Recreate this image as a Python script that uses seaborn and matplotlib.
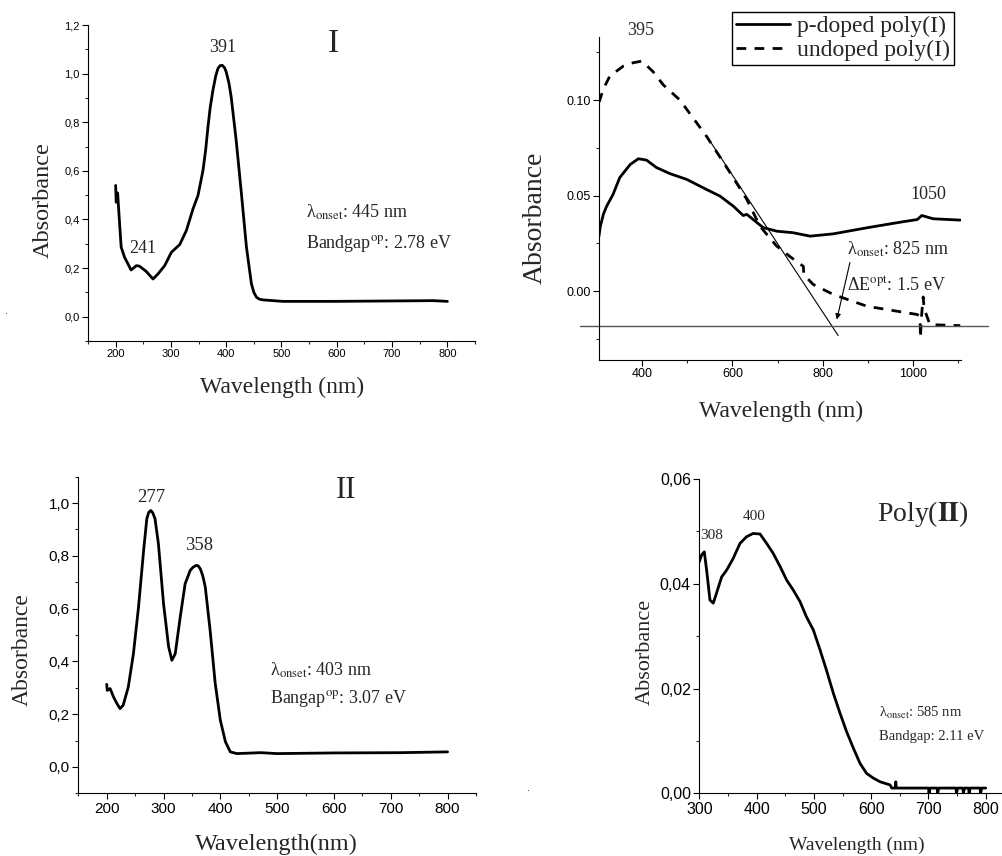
import matplotlib
matplotlib.use("Agg")
import matplotlib.pyplot as plt
import seaborn as sns
from matplotlib.ticker import MultipleLocator, FuncFormatter
from matplotlib.lines import Line2D

# ---------------- data ----------------
# Panel I (monomer I)
i_wl = [200, 201, 203.6, 206, 210, 216, 228, 237.4, 243, 255, 267.6, 276.6, 288.7, 300.8,
        316, 328, 340, 349, 358, 363, 367, 371, 376, 381, 385, 389, 393, 397, 400, 405, 409,
        418, 427.5, 436.6, 445.6, 450, 454.7, 460, 466.8, 503, 593, 774.5, 800]
i_abs = [0.540, 0.471, 0.509, 0.423, 0.286, 0.245, 0.192, 0.210, 0.208, 0.187, 0.155, 0.176,
         0.210, 0.265, 0.297, 0.355, 0.444, 0.499, 0.602, 0.690, 0.781, 0.860, 0.932, 0.990,
         1.021, 1.033, 1.034, 1.024, 1.007, 0.960, 0.904, 0.726, 0.506, 0.286, 0.135, 0.100,
         0.080, 0.072, 0.069, 0.063, 0.063, 0.066, 0.063]

# Panel poly(I)
pdop_wl = [305, 308, 315, 322, 336, 351, 374, 392, 410, 432, 462, 499, 543, 573, 602, 624, 632,
           646, 668, 698, 734, 772, 823, 898, 971, 1009, 1019, 1044, 1104]
pdop_abs = [0.0288, 0.0340, 0.0405, 0.0445, 0.0506, 0.0595, 0.0663, 0.0693, 0.0686, 0.0647,
            0.0615, 0.0585, 0.0532, 0.0497, 0.0445, 0.0396, 0.0402, 0.0375, 0.0333, 0.0314,
            0.0306, 0.0288, 0.0300, 0.0332, 0.0361, 0.0375, 0.0396, 0.0379, 0.0372]
undop_wl = [305, 315, 329, 359, 380, 400, 424, 447, 484, 543, 595, 632, 661, 698, 728, 757, 758,
            779, 823, 898, 1009, 1015, 1016, 1018, 1022, 1024, 1037, 1104]
undop_abs = [0.0988, 0.106, 0.1126, 0.1178, 0.1195, 0.1204, 0.115, 0.108, 0.100, 0.081, 0.062,
             0.048, 0.034, 0.0236, 0.018, 0.013, 0.0086, 0.0035, -0.0017, -0.0079, -0.0122,
             -0.0135, -0.0245, -0.014, -0.003, -0.009, -0.0175, -0.018]
tangent_wl = [543, 834]
tangent_abs = [0.0812, -0.0232]
baseline_wl = [263, 1165]
baseline_abs = [-0.0183, -0.0183]

# Panel II (monomer II)
ii_wl = [200, 201, 206, 212, 218, 223.5, 229, 238, 247, 256, 265, 270.6, 274, 277.6, 281, 285,
         291, 300, 309, 314.7, 320.6, 329.4, 338, 347, 352, 357.6, 361, 364.7, 369, 373.5, 382,
         391, 400, 409, 417.6, 429, 470.6, 500, 600, 717.6, 800]
ii_abs = [0.313, 0.290, 0.297, 0.265, 0.240, 0.221, 0.234, 0.303, 0.429, 0.606, 0.821, 0.941,
          0.965, 0.972, 0.963, 0.941, 0.846, 0.619, 0.455, 0.404, 0.429, 0.568, 0.694, 0.745,
          0.757, 0.764, 0.762, 0.751, 0.725, 0.682, 0.518, 0.316, 0.177, 0.095, 0.057, 0.0505,
          0.054, 0.0505, 0.053, 0.054, 0.057]

# Panel poly(II)
pii_wl = [300, 304, 308.7, 312.8, 318.6, 324.4, 330, 339, 347.7, 359, 371, 382.7, 394, 406,
          417.6, 429, 441, 452.5, 464, 475.8, 487, 499, 510.7, 522, 534, 545.6, 557, 569,
          580.6, 592, 603.8, 615.5, 633, 636, 642, 643, 644, 650, 700, 701, 703, 715, 716,
          718, 748, 749, 751, 760, 761, 763, 770, 771, 773, 790, 791, 793, 800]
pii_abs = [0.0442, 0.0455, 0.0461, 0.0426, 0.0369, 0.0363, 0.0382, 0.0413, 0.0426, 0.0448,
           0.0477, 0.0490, 0.0496, 0.0495, 0.0477, 0.0458, 0.0433, 0.0407, 0.0388, 0.0366,
           0.0337, 0.0312, 0.0274, 0.0235, 0.0191, 0.0153, 0.0118, 0.0086, 0.0057, 0.0038,
           0.0029, 0.0022, 0.0016, 0.0010, 0.0010, 0.0022, 0.0010, 0.0010, 0.0010, 0.0000,
           0.0010, 0.0010, 0.0000, 0.0010, 0.0010, 0.0000, 0.0010, 0.0010, 0.0000, 0.0010,
           0.0010, 0.0000, 0.0010, 0.0010, 0.0000, 0.0010, 0.0010]

# ---------------- style ----------------
sns.set_theme(style="ticks")
plt.rcParams["font.family"] = ["Liberation Sans", "DejaVu Sans"]
plt.rcParams["mathtext.fontset"] = "stix"
plt.rcParams["axes.linewidth"] = 0.8
plt.rcParams["axes.edgecolor"] = "black"
SERIF = ["Liberation Serif", "DejaVu Serif"]

fig = plt.figure(figsize=(10.02, 8.56), dpi=100)
W, H = 1002, 856


def add_ax(left, top, right, bottom):
    return fig.add_axes([left / W, 1 - bottom / H, (right - left) / W, (bottom - top) / H])


def style_ax(ax, xmaj, xmin, ymaj, ymin, tick_size, comma=True, ydec=1):
    sns.despine(ax=ax)
    ax.xaxis.set_major_locator(MultipleLocator(xmaj))
    ax.xaxis.set_minor_locator(MultipleLocator(xmin))
    ax.yaxis.set_major_locator(MultipleLocator(ymaj))
    ax.yaxis.set_minor_locator(MultipleLocator(ymin))
    if comma:
        ax.yaxis.set_major_formatter(FuncFormatter(lambda v, p: f"{v:.{ydec}f}".replace(".", ",")))
    else:
        ax.yaxis.set_major_formatter(FuncFormatter(lambda v, p: f"{v:.{ydec}f}"))
    ax.xaxis.set_major_formatter(FuncFormatter(lambda v, p: f"{v:.0f}"))
    ax.tick_params(which="major", direction="out", length=4, width=0.8, labelsize=tick_size,
                   colors="black", pad=2)
    ax.tick_params(which="minor", direction="out", length=2.2, width=0.8)
    ax.grid(False)
    ax.set_facecolor("white")


def labels(ax, xl, xpos, yl, ypos, xsize, ysize):
    ax.set_xlabel(xl, fontsize=xsize, family=SERIF)
    ax.set_ylabel(yl, fontsize=ysize, family=SERIF)
    ax.xaxis.label.set_va("center")
    ax.yaxis.label.set_va("center")
    ax.xaxis.set_label_coords(*xpos)
    ax.yaxis.set_label_coords(*ypos)


# ---------------- panel I ----------------
ax1 = add_ax(88, 25, 475, 341)
sns.lineplot(x=i_wl, y=i_abs, ax=ax1, color="black", lw=2, sort=False, estimator=None)
ax1.set_xlim(150, 850)
ax1.set_ylim(-0.1, 1.2)
style_ax(ax1, 100, 50, 0.2, 0.1, 8)
labels(ax1, "Wavelength (nm)", (0.501, -0.146), "Absorbance", (-0.116, 0.446), 17, 17.5)
ax1.text(393, 1.107, "391", fontsize=13, family=SERIF, ha="center", va="center")
ax1.text(249.5, 0.279, "241", fontsize=13, family=SERIF, ha="center", va="center")
ax1.text(594, 1.124, "I", fontsize=24, family=SERIF, ha="center", va="center")
ax1.text(545, 0.43, r"λ$_{\rm onset}$: 445 nm", fontsize=13, family=SERIF, ha="left", va="center")
ax1.text(545, 0.30, r"Bandgap$^{\rm op}$: 2.78 eV", fontsize=13, family=SERIF, ha="left", va="center")

# ---------------- panel poly(I) ----------------
ax2 = add_ax(599, 37, 960.7, 360)
sns.lineplot(x=pdop_wl, y=pdop_abs, ax=ax2, color="black", lw=2, sort=False, estimator=None)
sns.lineplot(x=undop_wl, y=undop_abs, ax=ax2, color="black", lw=2, sort=False, estimator=None,
             linestyle=(0, (3.5, 3)))
ax2.plot(tangent_wl, tangent_abs, color="black", lw=0.8)
ax2.plot(baseline_wl, baseline_abs, color="#555555", lw=1.0, clip_on=False)
ax2.set_xlim(305, 1105)
ax2.set_ylim(-0.036, 0.133)
style_ax(ax2, 200, 100, 0.05, 0.025, 9, comma=False, ydec=2)
labels(ax2, "Wavelength (nm)", (0.503, -0.158), "Absorbance", (-0.177, 0.44), 17, 20)
ax2.text(398, 0.1365, "395", fontsize=13, family=SERIF, ha="center", va="center", clip_on=False)
ax2.text(1033, 0.0505, "1050", fontsize=13, family=SERIF, ha="center", va="center")
ax2.text(853, 0.022, r"λ$_{\rm onset}$: 825 nm", fontsize=13, family=SERIF, ha="left", va="center")
ax2.text(853, 0.0025, r"ΔE$^{\rm opt}$: 1.5 eV", fontsize=13, family=SERIF, ha="left", va="center")
ax2.annotate("", xy=(831, -0.0148), xytext=(860, 0.015),
             arrowprops=dict(arrowstyle="-|>", lw=0.8, color="black", mutation_scale=8,
                             shrinkA=0, shrinkB=0))
handles = [Line2D([], [], color="black", lw=2),
           Line2D([], [], color="black", lw=2, linestyle=(0, (3.5, 3)))]
leg = ax2.legend(handles, ["p-doped poly(I)", "undoped poly(I)"], loc="upper left",
                 bbox_to_anchor=(0.368, 1.077), frameon=True, fancybox=False, framealpha=1,
                 edgecolor="black", handlelength=2.3, borderpad=0.15, labelspacing=0.1,
                 handletextpad=0.3, borderaxespad=0, prop={"family": SERIF, "size": 17})
leg.get_frame().set_linewidth(1.0)

# ---------------- panel II ----------------
ax3 = add_ax(78.3, 476.7, 476, 793.3)
sns.lineplot(x=ii_wl, y=ii_abs, ax=ax3, color="black", lw=2, sort=False, estimator=None)
ax3.set_xlim(150, 850)
ax3.set_ylim(-0.1, 1.1)
style_ax(ax3, 100, 50, 0.2, 0.1, 11)
labels(ax3, "Wavelength(nm)", (0.499, -0.163), "Absorbance", (-0.142, 0.453), 17.5, 17)
ax3.text(277.6, 1.023, "277", fontsize=13.5, family=SERIF, ha="center", va="center")
ax3.text(363, 0.84, "358", fontsize=13.5, family=SERIF, ha="center", va="center")
ax3.text(620.6, 1.048, "II", fontsize=22, family=SERIF, ha="center", va="center")
ax3.text(487, 0.366, r"λ$_{\rm onset}$: 403 nm", fontsize=13, family=SERIF, ha="left", va="center")
ax3.text(487, 0.259, r"Bangap$^{\rm op}$: 3.07 eV", fontsize=13, family=SERIF, ha="left", va="center")

# ---------------- panel poly(II) ----------------
ax4 = add_ax(699.3, 479, 1002, 793.3)
sns.lineplot(x=pii_wl, y=pii_abs, ax=ax4, color="black", lw=2, sort=False, estimator=None)
ax4.set_xlim(300, 828.4)
ax4.set_ylim(0.0, 0.06)
style_ax(ax4, 100, 50, 0.02, 0.01, 11.5, ydec=2)
for lab in ax4.get_xticklabels() + ax4.get_yticklabels():
    lab.set_family(["Liberation Sans Narrow", "Liberation Sans", "DejaVu Sans"])
labels(ax4, "Wavelength (nm)", (0.52, -0.1645), "Absorbance", (-0.179, 0.4505), 14, 16)
ax4.text(609.7, 0.0534, r"Poly($\mathbf{II}$)", fontsize=20, family=SERIF, ha="left", va="center")
ax4.text(395.5, 0.0529, "400", fontsize=11, family=SERIF, ha="center", va="center")
ax4.text(301, 0.0493, "308", fontsize=11, family=SERIF, ha="left", va="center")
ax4.text(614, 0.0153, r"λ$_{\rm onset}$: 585 nm", fontsize=10.5, family=SERIF, ha="left", va="center")
ax4.text(614, 0.0108, "Bandgap: 2.11 eV", fontsize=10.5, family=SERIF, ha="left", va="center")

# stray dots present in the original image
fig.text(7 / W, 1 - 316 / H, ".", fontsize=8, ha="center", va="bottom")
fig.text(529 / W, 1 - 793 / H, ".", fontsize=8, ha="center", va="bottom")

fig.savefig("out.png", dpi=100, facecolor="white")
